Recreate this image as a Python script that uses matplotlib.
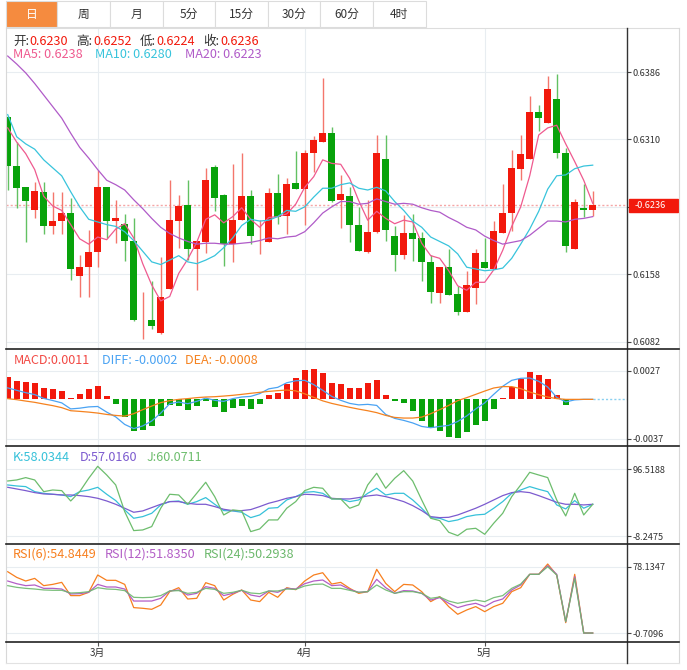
import matplotlib
matplotlib.use("Agg")
import matplotlib.pyplot as plt
from matplotlib.patches import Rectangle

plt.rcParams['font.family'] = ['Noto Sans CJK SC', 'DejaVu Sans']

W, H = 687, 670

# ---- data (one entry per trading day) ----
opens = [.6335, .6280, .6256, .6231, .6251, .6212, .6218, .6227, .6156, .6166,
         .6183, .6256, .6218, .6215, .6195, .6106, .6107, .6092, .6141, .6218,
         .6236, .6187, .6194, .6279, .6247, .6192, .6219, .6246, .6195, .6194,
         .6250, .6224, .6261, .6254, .6295, .6307, .6317, .6242, .6246, .6214,
         .6183, .6206, .6288, .6201, .6180, .6205, .6199, .6172, .6137, .6166,
         .6136, .6116, .6143, .6172, .6164, .6205, .6227, .6277, .6288, .6341,
         .6329, .6356, .6295, .6187, .6233, .6230]
highs = [.6336, .6307, .6256, .6262, .6262, .6251, .6251, .6244, .6180, .6208,
         .6276, .6256, .6242, .6226, .6222, .6138, .6150, .6177, .6264, .6247,
         .6264, .6195, .6278, .6281, .6248, .6282, .6295, .6253, .6219, .6255,
         .6271, .6267, .6297, .6298, .6314, .6379, .6324, .6270, .6256, .6234,
         .6242, .6315, .6315, .6212, .6225, .6226, .6206, .6180, .6166, .6187,
         .6145, .6162, .6187, .6199, .6218, .6260, .6298, .6315, .6359, .6349,
         .6381, .6384, .6300, .6243, .6260, .6252]
lows = [.6253, .6233, .6194, .6222, .6203, .6203, .6203, .6152, .6132, .6132,
        .6166, .6199, .6193, .6173, .6105, .6085, .6096, .6091, .6141, .6188,
        .6174, .6140, .6182, .6229, .6167, .6172, .6219, .6192, .6181, .6194,
        .6215, .6203, .6254, .6213, .6273, .6307, .6240, .6210, .6194, .6184,
        .6182, .6204, .6195, .6162, .6175, .6173, .6150, .6126, .6126, .6135,
        .6112, .6115, .6124, .6165, .6164, .6205, .6207, .6264, .6288, .6319,
        .6329, .6289, .6183, .6187, .6223, .6224]
closes = [.6280, .6255, .6241, .6252, .6212, .6218, .6227, .6164, .6166, .6183,
          .6256, .6218, .6221, .6195, .6107, .6107, .6100, .6132, .6219, .6235,
          .6187, .6195, .6264, .6244, .6192, .6219, .6246, .6201, .6196, .6250,
          .6223, .6260, .6254, .6295, .6309, .6317, .6241, .6249, .6213, .6184,
          .6206, .6295, .6208, .6180, .6205, .6198, .6172, .6138, .6166, .6135,
          .6116, .6146, .6182, .6165, .6207, .6227, .6278, .6294, .6341, .6334,
          .6367, .6295, .6190, .6240, .6230, .6236]

ma5 = [.6323, .6307, .6294, .6276, .6246, .6235, .6230, .6214, .6198, .6192,
       .6200, .6197, .6209, .6215, .6199, .6170, .6146, .6128, .6133, .6159,
       .6175, .6194, .6220, .6225, .6216, .6223, .6233, .6220, .6211, .6222,
       .6223, .6226, .6237, .6256, .6268, .6287, .6283, .6282, .6266, .6241,
       .6219, .6229, .6221, .6215, .6219, .6217, .6193, .6179, .6176, .6162,
       .6145, .6140, .6149, .6149, .6163, .6185, .6212, .6234, .6269, .6315,
       .6323, .6326, .6305, .6285, .6264, .6238]
ma10 = [.6338, .6313, .6305, .6299, .6287, .6278, .6269, .6251, .6234, .6220,
        .6217, .6214, .6212, .6206, .6196, .6184, .6172, .6169, .6174, .6179,
        .6172, .6170, .6174, .6179, .6188, .6199, .6213, .6220, .6218, .6219,
        .6223, .6230, .6229, .6234, .6245, .6255, .6255, .6259, .6261, .6255,
        .6253, .6256, .6252, .6240, .6230, .6218, .6211, .6200, .6195, .6190,
        .6181, .6166, .6164, .6162, .6163, .6165, .6176, .6192, .6209, .6229,
        .6254, .6269, .6270, .6277, .6280, .6281]
ma20 = [.6404, .6395, .6385, .6373, .6360, .6347, .6334, .6317, .6301, .6289,
        .6276, .6264, .6259, .6253, .6242, .6232, .6221, .6211, .6204, .6199,
        .6195, .6192, .6193, .6193, .6192, .6192, .6193, .6194, .6196, .6199,
        .6198, .6200, .6201, .6206, .6216, .6227, .6234, .6240, .6240, .6237,
        .6238, .6243, .6240, .6237, .6238, .6237, .6233, .6230, .6228, .6222,
        .6217, .6211, .6208, .6201, .6196, .6192, .6194, .6196, .6202, .6210,
        .6218, .6218, .6217, .6220, .6221, .6223]

macd_hist = [.00208, .00176, .00160, .00151, .00104, .00094, .00075, .00012, .00047, .00094,
             .00123, .00028, -.00044, -.00163, -.00295, -.00290, -.00252, -.00158, -.00057, -.00063,
             -.00101, -.00063, -.00016, -.00073, -.00116, -.00078, -.00063, -.00094, -.00044, .00038,
             .00063, .00148, .00205, .00274, .00283, .00245, .00154, .00142, .00107, .00104,
             .00151, .00182, .00038, -.00012, -.00035, -.00110, -.00201, -.00271, -.00295, -.00356,
             -.00365, -.00308, -.00245, -.00208, -.00094, .00012, .00120, .00192, .00255, .00229,
             .00189, .00038, -.00057, -.00005, 0.0, 0.0]
macd_diff = [.00108, .00085, .00063, .00045, .00009, -.00011, -.00033, -.00090, -.00083, -.00071,
             -.00067, -.00120, -.00165, -.00236, -.00275, -.00250, -.00204, -.00130, -.00041, -.00025,
             -.00041, -.00019, .00012, -.00009, -.00019, .00007, .00022, .00028, .00054, .00099,
             .00113, .00156, .00175, .00179, .00139, .00085, .00028, -.00009, -.00038, -.00052,
             -.00047, -.00057, -.00142, -.00179, -.00198, -.00222, -.00255, -.00267, -.00255, -.00245,
             -.00208, -.00156, -.00090, -.00033, .00047, .00123, .00179, .00198, .00201, .00170,
             .00116, .00019, -.00024, -.00005, 0.0, 0.0]
macd_dea = [.00007, -.00003, -.00016, -.00028, -.00044, -.00059, -.00078, -.00107, -.00113, -.00120,
            -.00129, -.00142, -.00151, -.00158, -.00135, -.00097, -.00063, -.00031, -.00012, 0.0,
            .00007, .00016, .00022, .00025, .00031, .00038, .00047, .00057, .00066, .00075,
            .00082, .00088, .00080, .00052, .00019, -.00014, -.00038, -.00057, -.00075, -.00092,
            -.00107, -.00125, -.00151, -.00170, -.00176, -.00176, -.00167, -.00135, -.00097, -.00057,
            -.00012, .00016, .00047, .00078, .00107, .00120, .00120, .00101, .00069, .00044,
            .00022, .00007, 0.0, 0.0, 0.0, 0.0]

kdj_k = [72.0, 70.4, 69.4, 61.5, 58.9, 57.4, 56.3, 53.7, 61.5, 64.1,
         68.3, 57.4, 47.5, 32.9, 19.8, 22.4, 27.6, 40.7, 45.9, 46.9,
         41.7, 45.9, 52.2, 41.7, 31.8, 31.3, 29.2, 20.8, 25.0, 35.5,
         36.5, 48.5, 53.7, 60.5, 61.5, 58.9, 50.1, 50.1, 45.9, 48.5,
         58.9, 66.8, 56.3, 58.9, 58.9, 48.5, 35.5, 20.8, 19.8, 14.6,
         17.2, 22.4, 25.0, 26.1, 35.5, 45.9, 58.9, 64.1, 69.4, 65.2,
         61.5, 40.7, 34.4, 47.5, 35.5, 41.7]
kdj_d = [68.3, 65.7, 63.1, 60.0, 57.9, 57.4, 56.3, 56.3, 55.3, 53.7,
         51.1, 46.9, 41.7, 35.5, 29.2, 31.3, 36.5, 41.7, 45.9, 45.9,
         43.3, 41.7, 41.7, 38.1, 33.9, 31.8, 31.8, 33.4, 38.1, 43.3,
         46.9, 51.1, 53.7, 57.4, 56.8, 55.3, 51.1, 50.1, 50.1, 52.2,
         54.8, 56.3, 53.7, 50.1, 45.9, 39.6, 31.8, 22.4, 20.8, 21.3,
         25.0, 30.2, 35.5, 41.7, 48.5, 55.3, 60.0, 61.5, 60.0, 55.3,
         50.1, 44.8, 41.7, 41.7, 40.7, 41.7]
kdj_j = [78.2, 79.8, 83.5, 79.8, 61.5, 64.1, 63.1, 46.9, 61.5, 82.4,
         101.2, 87.6, 72.0, 30.2, 0.5, 1.5, 6.8, 35.5, 57.4, 56.3,
         41.7, 58.9, 76.2, 53.7, 25.0, 32.9, 31.3, -1.1, 3.1, 17.2,
         17.2, 35.5, 45.9, 63.1, 68.3, 66.8, 50.1, 50.1, 35.5, 40.7,
         72.0, 90.3, 66.8, 82.4, 94.4, 78.2, 48.5, 19.8, 16.1, -2.1,
         -7.4, 2.6, 4.1, -5.3, 12.0, 27.6, 53.7, 72.0, 91.8, 87.6,
         83.5, 48.5, 23.4, 58.9, 25.0, 41.7]

rsi6 = [72.2, 65.5, 61.2, 64.3, 55.7, 57.2, 59.6, 43.9, 43.9, 47.8,
        68.3, 62.0, 62.0, 57.2, 29.7, 28.9, 27.7, 32.8, 48.6, 53.3,
        39.9, 40.7, 59.2, 55.7, 38.7, 45.4, 50.6, 38.7, 36.8, 47.8,
        41.9, 53.3, 50.9, 61.2, 68.3, 71.0, 57.6, 59.6, 52.5, 46.6,
        48.6, 75.0, 58.4, 48.6, 57.2, 56.5, 48.6, 36.8, 42.7, 30.9,
        21.8, 26.9, 30.9, 24.9, 30.9, 34.8, 48.6, 53.3, 69.1, 69.1,
        81.3, 68.3, 11.9, 69.1, -0.4, -0.4]
rsi12 = [61.2, 58.0, 55.7, 56.5, 52.5, 52.5, 51.7, 45.8, 46.2, 47.8,
         57.2, 54.1, 54.1, 51.7, 37.5, 37.5, 37.5, 40.7, 49.4, 50.6,
         44.6, 46.6, 54.5, 52.5, 43.9, 46.6, 50.2, 44.6, 42.7, 49.4,
         47.8, 52.5, 51.7, 58.0, 61.2, 62.4, 55.7, 56.5, 51.3, 47.8,
         48.6, 63.2, 53.3, 46.6, 49.8, 49.4, 46.6, 38.7, 41.5, 34.8,
         29.7, 32.8, 34.8, 30.9, 36.8, 39.9, 50.6, 56.5, 69.1, 69.1,
         79.3, 69.1, 13.1, 66.3, -0.4, -0.4]
rsi24 = [55.7, 53.7, 52.5, 51.7, 50.6, 50.2, 50.2, 47.0, 47.4, 48.6,
         53.3, 51.7, 51.3, 49.8, 41.9, 41.5, 41.9, 43.9, 49.4, 49.8,
         46.6, 47.8, 52.5, 51.3, 46.6, 47.8, 50.2, 47.0, 46.2, 49.4,
         49.4, 51.7, 51.3, 55.3, 57.2, 57.6, 52.5, 52.5, 50.2, 47.8,
         48.6, 56.5, 50.6, 46.6, 48.6, 48.6, 46.6, 40.7, 42.3, 37.5,
         34.8, 36.8, 38.7, 36.8, 41.5, 43.9, 52.5, 57.6, 69.1, 69.1,
         78.1, 68.3, 13.1, 64.3, -0.4, -0.4]

month_pos = [10, 33, 53]
month_labels = ['3月', '4月', '5月']
tabs = ['日', '周', '月', '5分', '15分', '30分', '60分', '4时']

RED = '#f2190c'
GREEN = '#08a20b'
RED_WICK = '#f4766c'
GREEN_WICK = '#62c162'
DARK = '#333333'
GRID = '#e8edf1'

X_LEFT, X_RIGHT = -0.19, 68.81


def panel(fig, top, bottom, ylim, ticks, labels):
    '''Crea un panell amb l'eix de valors a la dreta.'''
    ax = fig.add_axes([6 / W, 1 - bottom / H, 621 / W, (bottom - top) / H])
    ax.set_xlim(X_LEFT, X_RIGHT)
    ax.set_ylim(*ylim)
    for s in ax.spines.values():
        s.set_visible(False)
    ax.set_xticks(month_pos)
    ax.tick_params(axis='x', length=0, labelbottom=False)
    ax.yaxis.tick_right()
    ax.set_yticks(ticks)
    ax.set_yticklabels(labels)
    ax.tick_params(axis='y', length=3, width=0.8, color='#444444',
                   labelsize=6.6, labelcolor=DARK, pad=1)
    ax.grid(True, color=GRID, lw=0.8)
    ax.set_axisbelow(True)
    return ax


def main() -> None:
    fig = plt.figure(figsize=(W / 100, H / 100), dpi=100)
    idx = list(range(len(closes)))

    # main price panel
    ax = panel(fig, 28, 349, (0.60738, 0.64356),
               [0.6082, 0.6158, 0.6234, 0.6310, 0.6386],
               ['0.6082', '0.6158', '', '0.6310', '0.6386'])
    up = [c >= o for o, c in zip(opens, closes)]
    ax.vlines(idx, lows, highs, colors=[RED_WICK if u else GREEN_WICK for u in up], lw=1, zorder=2)
    bottoms = [min(o, c) for o, c in zip(opens, closes)]
    heights = [max(abs(c - o), 0.00009) for o, c in zip(opens, closes)]
    ax.bar(idx, heights, bottom=bottoms, width=0.72,
           color=[RED if u else GREEN for u in up], zorder=3)
    ax.plot(idx, ma5, color='#ef5a8f', lw=0.9, zorder=4)
    ax.plot(idx, ma10, color='#38c4dc', lw=0.9, zorder=4)
    ax.plot(idx, ma20, color='#b05bc8', lw=0.9, zorder=4)
    last = closes[-1]
    ax.axhline(last, color='#f5a6a6', lw=1.0, ls=(0, (1.5, 1.5)), zorder=1)
    tr = ax.get_yaxis_transform()
    ax.add_patch(Rectangle((1.003, last - 0.00074), 0.079, 0.00148, transform=tr,
                           color=RED, clip_on=False, zorder=6))
    ax.text(1.012, last, '-%.4f' % last, transform=tr, color='white', fontsize=6.6,
            va='center', ha='left', zorder=7)

    # MACD
    ax2 = panel(fig, 349, 446, (-0.00439, 0.00474), [-0.0037, 0.0027], ['-0.0037', '0.0027'])
    ax2.bar(idx, macd_hist, width=0.68, color=[RED if v >= 0 else GREEN for v in macd_hist], zorder=2)
    ax2.plot(idx, macd_diff, color='#4aa3f3', lw=0.9, zorder=3)
    ax2.plot(idx, macd_dea, color='#f5821f', lw=0.9, zorder=3)
    ax2.hlines(0, idx[-1], X_RIGHT, colors='#8ad0f0', lw=1, linestyles=(0, (1.5, 1.5)))

    # KDJ
    ax3 = panel(fig, 446, 544, (-20.5, 133.0), [-8.2475, 96.5188], ['-8.2475', '96.5188'])
    ax3.plot(idx, kdj_k, color='#36c1d9', lw=0.9)
    ax3.plot(idx, kdj_d, color='#7c5bcf', lw=0.9)
    ax3.plot(idx, kdj_j, color='#6dbd6d', lw=0.9)

    # RSI
    ax4 = panel(fig, 544, 642, (-11.0, 105.0), [-0.7096, 78.1347], ['-0.7096', '78.1347'])
    ax4.plot(idx, rsi6, color='#f77f1e', lw=0.9)
    ax4.plot(idx, rsi12, color='#b35ec6', lw=0.9)
    ax4.plot(idx, rsi24, color='#6cb86c', lw=0.9, alpha=0.9)
    ax4.set_xticklabels(month_labels)
    ax4.tick_params(axis='x', length=3, color='#555555', labelbottom=True,
                    labelsize=7, labelcolor=DARK, pad=1.5)

    # overlay: tabs, frame, legends
    ov = fig.add_axes([0, 0, 1, 1])
    ov.set_xlim(0, W)
    ov.set_ylim(H, 0)
    ov.axis('off')
    ov.set_zorder(10)
    edges = [6, 57.3, 110, 162.7, 215, 267.7, 320, 372.7, 425.7]
    for k, name in enumerate(tabs):
        x0, x1 = edges[k], edges[k + 1]
        sel = k == 0
        ov.add_patch(Rectangle((x0, 1), x1 - x0, 26, facecolor='#f58b3f' if sel else 'white',
                               edgecolor='#dcdcdc', lw=0.8))
        ov.text((x0 + x1) / 2, 14.5, name, ha='center', va='center', fontsize=8.5,
                color='white' if sel else DARK)
    ov.plot([6, 679], [27.5, 27.5], color='#dddddd', lw=0.8)
    ov.plot([6, 6], [27.5, 663], color='#d8d8d8', lw=0.8)
    ov.plot([679, 679], [27.5, 663], color='#d8d8d8', lw=0.8)
    ov.plot([6, 679], [663, 663], color='#e2e2e2', lw=0.8)
    ov.plot([627, 627], [27.5, 663], color='#333333', lw=1.0)
    for yy in [349, 446, 544, 642]:
        ov.plot([6, 679], [yy, yy], color='#222222', lw=1.2)

    legends = [
        (41.7, [('开:', 13.3, DARK), ('0.6230', 29.5, RED), ('高:', 76.7, DARK), ('0.6252', 93, RED),
                ('低:', 140, DARK), ('0.6224', 156.5, RED), ('收:', 203.3, DARK), ('0.6236', 220, RED)]),
        (55, [('MA5: 0.6238', 13.3, '#ef5a8f'), ('MA10: 0.6280', 95, '#38c4dc'),
              ('MA20: 0.6223', 185, '#b05bc8')]),
        (360, [('MACD:0.0011', 13.3, '#f24a45'), ('DIFF: -0.0002', 102, '#4aa3f3'),
               ('DEA: -0.0008', 185, '#f5821f')]),
        (457.3, [('K:58.0344', 13, '#36c1d9'), ('D:57.0160', 80, '#7c5bcf'),
                 ('J:60.0711', 147, '#6dbd6d')]),
        (554.3, [('RSI(6):54.8449', 13, '#f77f1e'), ('RSI(12):51.8350', 105, '#b35ec6'),
                 ('RSI(24):50.2938', 204, '#6cb86c')]),
    ]
    for yy, parts in legends:
        for txt, xx, col in parts:
            ov.text(xx, yy, txt, color=col, fontsize=9.1, ha='left', va='center')

    fig.savefig('out.png', dpi=100)


if __name__ == "__main__":
    main()
